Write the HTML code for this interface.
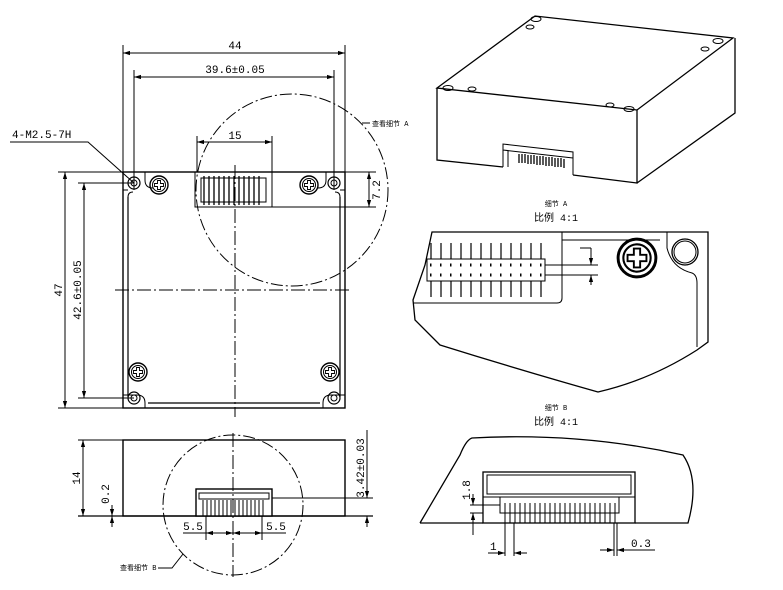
<!DOCTYPE html>
<html><head><meta charset="utf-8"><style>
html,body{margin:0;padding:0;background:#fff}
svg{display:block}
text{font-family:"Liberation Mono","Noto Sans CJK SC",monospace;fill:#000}
</style></head><body>
<svg width="783" height="590" viewBox="0 0 783 590" xmlns="http://www.w3.org/2000/svg">
<defs>
<marker id="a" viewBox="0 0 10 10" refX="10" refY="5" markerWidth="7" markerHeight="7" orient="auto-start-reverse"><path d="M0,2 L10,5 L0,8z" fill="#000"/></marker>
<g id="scr"><circle r="9" fill="none" stroke="#000" stroke-width="1.4"/><circle r="6.5" fill="none" stroke="#000" stroke-width="1"/><path d="M-1.5,-4.5h3v3h3v3h-3v3h-3v-3h-3v-3h3z" fill="none" stroke="#000" stroke-width="0.9"/></g>
<g id="hole"><circle r="6" fill="none" stroke="#000" stroke-width="1.2"/><circle r="3" fill="none" stroke="#000" stroke-width="1"/></g>
</defs>
<g fill="none" stroke="#000" stroke-width="1">
<!-- TOP VIEW -->
<line x1="123" y1="45" x2="123" y2="172"/><line x1="345" y1="45" x2="345" y2="172"/>
<line x1="123" y1="53" x2="345" y2="53" marker-start="url(#a)" marker-end="url(#a)"/>
<line x1="134" y1="70" x2="134" y2="190"/><line x1="334" y1="70" x2="334" y2="190"/>
<line x1="134" y1="77" x2="334" y2="77" marker-start="url(#a)" marker-end="url(#a)"/>
<rect x="123" y="172" width="222" height="236" stroke-width="1.4"/>
<line x1="58" y1="172" x2="376" y2="172"/>
<line x1="272" y1="207" x2="376" y2="207"/>
<line x1="369" y1="172" x2="369" y2="207" marker-start="url(#a)" marker-end="url(#a)"/>
<line x1="58" y1="408" x2="123" y2="408"/>
<line x1="65" y1="172" x2="65" y2="408" marker-start="url(#a)" marker-end="url(#a)"/>
<line x1="78" y1="183" x2="134" y2="183"/><line x1="78" y1="398" x2="134" y2="398"/>
<line x1="84" y1="183" x2="84" y2="398" marker-start="url(#a)" marker-end="url(#a)"/>
<path d="M128,197 v200 M340,197 v200 M148,403 h172" stroke-width="1.2"/>
<path d="M128,197 q0,-5 5,-5 M340,197 q0,-5 -5,-5" />
<path d="M145,172 v8 q0,8 8,8 M326,172 v8 q0,8 -8,8 M123,190 h5 M340,190 h5"/>
<path d="M145,408 v-5 q0,-8 -8,-8 h-14 M323,408 v-5 q0,-8 8,-8 h14"/>
<rect x="195" y="172" width="77" height="35"/>
<rect x="201" y="178" width="65" height="24"/>
<g stroke-width="1.3">
<path d="M204,176v29M209,176v29M214,176v29M219,176v29M224,176v29M229,176v29M234,176v29M239,176v29M244,176v29M249,176v29M254,176v29M259,176v29"/>
</g>
<line x1="197" y1="136" x2="197" y2="172"/><line x1="272" y1="136" x2="272" y2="172"/>
<line x1="197" y1="142" x2="272" y2="142" marker-start="url(#a)" marker-end="url(#a)"/>
<line x1="235" y1="165" x2="235" y2="417" stroke-dasharray="14,3,2,3"/>
<line x1="115" y1="290" x2="352" y2="290" stroke-dasharray="14,3,2,3"/>
<circle cx="292" cy="190" r="96" stroke-dasharray="12,3,2,3"/>
<path d="M10,142 H88 L134,183"/>
<path d="M362,123 h8"/>
<!-- SIDE VIEW -->
<rect x="123" y="440" width="222" height="76" stroke-width="1.4"/>
<line x1="78" y1="440" x2="123" y2="440"/>
<line x1="78" y1="516" x2="373" y2="516" stroke-width="1.2"/>
<line x1="83" y1="440" x2="83" y2="516" marker-start="url(#a)" marker-end="url(#a)"/>
<line x1="112" y1="505" x2="112" y2="516" marker-end="url(#a)"/><line x1="112" y1="527" x2="112" y2="516" marker-end="url(#a)"/>
<rect x="196" y="489" width="76" height="27" fill="#fff" stroke-width="1.4"/>
<rect x="199" y="493" width="70" height="6"/>
<path d="M203,500v16M207,500v16M211,500v16M215,500v16M219,500v16M223,500v16M227,500v16M231,500v16M235,500v16M239,500v16M243,500v16M247,500v16M251,500v16M255,500v16M259,500v16M263,500v16"/>
<line x1="272" y1="498" x2="373" y2="498"/>
<line x1="367" y1="430" x2="367" y2="498" marker-end="url(#a)"/><line x1="367" y1="527" x2="367" y2="516" marker-end="url(#a)"/>
<line x1="233" y1="433" x2="233" y2="577" stroke-dasharray="14,3,2,3"/>
<circle cx="233" cy="505" r="70" stroke-dasharray="12,3,2,3"/>
<line x1="206" y1="516" x2="206" y2="540"/><line x1="262" y1="516" x2="262" y2="540"/>
<line x1="183" y1="533" x2="206" y2="533"/><line x1="206" y1="533" x2="233" y2="533" marker-start="url(#a)" marker-end="url(#a)"/>
<line x1="233" y1="533" x2="262" y2="533" marker-start="url(#a)" marker-end="url(#a)"/><line x1="262" y1="533" x2="286" y2="533"/>
<path d="M158,568 h14 L183,554"/>
<!-- 3D -->
<path d="M437,88 L535,16 L733,38 L637,110 Z" stroke-width="1.3"/>
<path d="M437,88 V160 L503,167 M573,175 L637,183 V110 M637,183 L735,113 V38" stroke-width="1.3"/>
<path d="M503,167 V144 L573,152 V175 M503,150 L573,158 M508,151 v16"/>
<path d="M519,154v9M522,154v9M525,154v9M528,155v9M531,155v9M534,155v9M537,156v9M540,156v9M543,156v9M546,157v9M549,157v9M552,157v9M555,158v9M558,158v9M561,158v9M564,159v9" stroke-width="1.3"/>
<ellipse cx="536" cy="19" rx="5" ry="2.5"/><ellipse cx="530" cy="27" rx="4" ry="2"/>
<ellipse cx="718" cy="41" rx="5" ry="2.5"/><ellipse cx="705" cy="49" rx="4" ry="2"/>
<ellipse cx="448" cy="88" rx="5" ry="2.5"/><ellipse cx="472" cy="89" rx="4" ry="2"/>
<ellipse cx="610" cy="105" rx="4" ry="2"/><ellipse cx="629" cy="109" rx="5" ry="2.5"/>
<!-- DETAIL A -->
<path d="M432,232 H708 V342 L697,350 Q650,380 598,392 Q520,370 440,345 L415,320 L413,300 L425,265 Z" stroke-width="1.3"/>
<path d="M562,232 V298 q0,5 -5,5 H413"/>
<path d="M562,240 H660 M667,232 V248 q5,20 25,25 q5,2 5,10 V347"/>
<rect x="427" y="259" width="118" height="22"/>
<g stroke-width="1.2"><path d="M431,243v16M431,281v16M441,243v16M441,281v16M451,243v16M451,281v16M461,243v16M461,281v16M471,243v16M471,281v16M481,243v16M481,281v16M491,243v16M491,281v16M501,243v16M501,281v16M511,243v16M511,281v16M521,243v16M521,281v16M531,243v16M531,281v16M541,243v16M541,281v16"/></g>
<g stroke-dasharray="1.5,8.5" stroke-width="3"><line x1="430" y1="265" x2="545" y2="265"/><line x1="430" y1="275" x2="545" y2="275"/></g>
<line x1="545" y1="265" x2="598" y2="265"/><line x1="545" y1="275" x2="598" y2="275"/>
<line x1="591" y1="248" x2="591" y2="265" marker-end="url(#a)"/><line x1="591" y1="285" x2="591" y2="275" marker-end="url(#a)"/>
<line x1="580" y1="248" x2="591" y2="248"/>
<circle cx="685" cy="252" r="13" stroke-width="1.3"/><circle cx="685" cy="252" r="11"/>
<!-- DETAIL B -->
<path d="M420,523 L460,455 Q466,440 472,438 Q580,432 683,455 Q700,480 688,523 H635 M483,523 H420" stroke-width="1.3"/>
<rect x="483" y="472" width="152" height="51" fill="#fff" stroke-width="1.3"/>
<rect x="487" y="475" width="144" height="19"/>
<path d="M483,497 H635 M500,497 V513 H619 V497"/>
<path d="M505,503v20M510,503v20M515,503v20M520,503v20M525,503v20M530,503v20M535,503v20M540,503v20M545,503v20M550,503v20M555,503v20M560,503v20M565,503v20M570,503v20M575,503v20M580,503v20M585,503v20M590,503v20M595,503v20M600,503v20M605,503v20M610,503v20M615,503v20"/>
<path d="M505,523v33M514,523v33M614,523v33M617,523v33"/>
<line x1="470" y1="505" x2="500" y2="505"/><line x1="470" y1="513" x2="483" y2="513"/>
<line x1="473" y1="494" x2="473" y2="505" marker-end="url(#a)"/><line x1="473" y1="535" x2="473" y2="513" marker-end="url(#a)"/>
<line x1="488" y1="553" x2="505" y2="553" marker-end="url(#a)"/><line x1="527" y1="553" x2="514" y2="553" marker-end="url(#a)"/>
<line x1="600" y1="550" x2="614" y2="550" marker-end="url(#a)"/><line x1="655" y1="550" x2="617" y2="550" marker-end="url(#a)"/>
</g>
<g font-size="11">
<text x="235" y="49" text-anchor="middle">44</text>
<text x="235" y="73" text-anchor="middle">39.6±0.05</text>
<text x="235" y="139" text-anchor="middle">15</text>
<text x="12" y="138">4-M2.5-7H</text>
<text x="372" y="126" font-size="7">查看细节 A</text>
<text transform="translate(380,190) rotate(-90)" text-anchor="middle">7.2</text>
<text transform="translate(62,290) rotate(-90)" text-anchor="middle">47</text>
<text transform="translate(81,290) rotate(-90)" text-anchor="middle">42.6±0.05</text>
<text transform="translate(80,478) rotate(-90)" text-anchor="middle">14</text>
<text transform="translate(109,494) rotate(-90)" text-anchor="middle">0.2</text>
<text transform="translate(364,468) rotate(-90)" text-anchor="middle">3.42±0.03</text>
<text x="193" y="530" text-anchor="middle">5.5</text>
<text x="276" y="530" text-anchor="middle">5.5</text>
<text x="120" y="570" font-size="7">查看细节 B</text>
<text x="556" y="206" text-anchor="middle" font-size="7">细节 A</text>
<text x="556" y="221" text-anchor="middle" font-size="10">比例 4:1</text>
<text x="556" y="410" text-anchor="middle" font-size="7">细节 B</text>
<text x="556" y="425" text-anchor="middle" font-size="10">比例 4:1</text>
<text transform="translate(470,490) rotate(-90)" text-anchor="middle">1.8</text>
<text x="490" y="550">1</text>
<text x="631" y="547">0.3</text>
</g>
<use href="#hole" x="134" y="183"/><use href="#hole" x="334" y="183"/>
<use href="#hole" x="134" y="398"/><use href="#hole" x="334" y="398"/>
<use href="#scr" x="159" y="185"/><use href="#scr" x="309" y="185"/>
<use href="#scr" x="138" y="372"/><use href="#scr" x="330" y="372"/>
<g transform="translate(637,258) scale(2.1)"><use href="#scr"/></g>
</svg>
</body></html>
